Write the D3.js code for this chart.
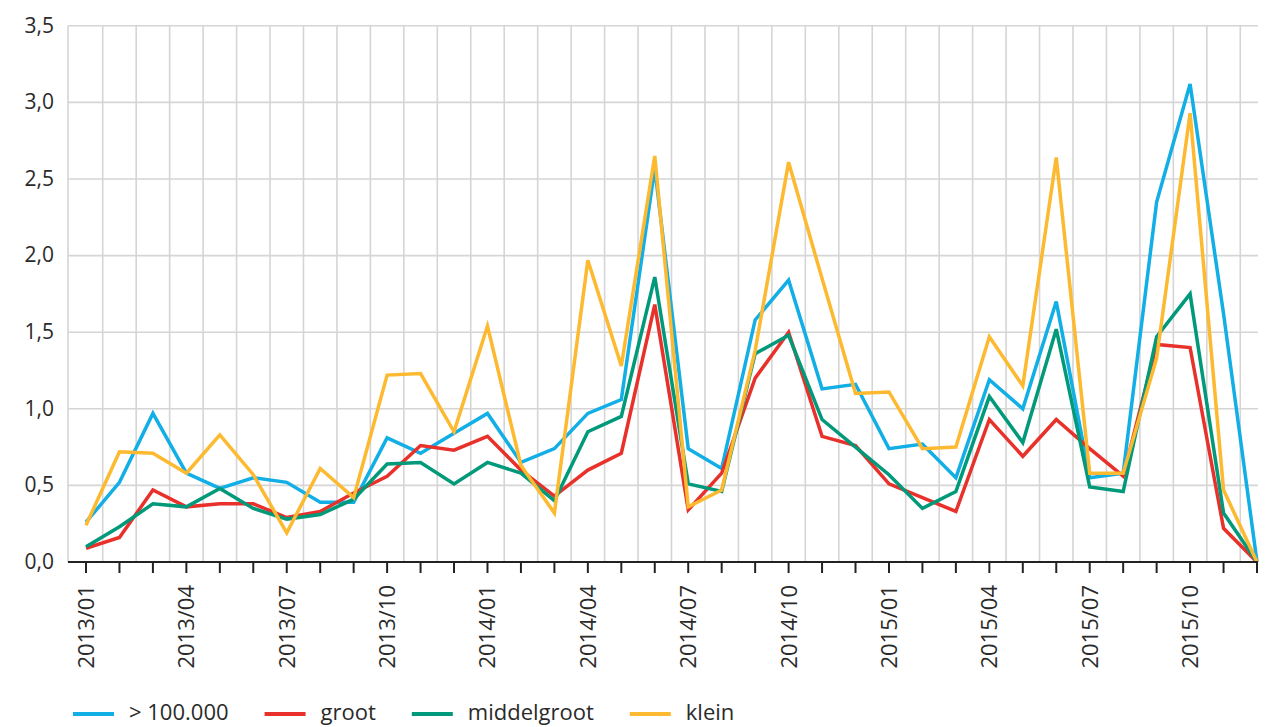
<!DOCTYPE html>
<html>
<head>
<meta charset="utf-8">
<script src="https://cdn.jsdelivr.net/npm/d3@7"></script>
<style>
  html, body { margin: 0; padding: 0; background: #fff; }
  svg { display: block; font-family: "Open Sans", sans-serif; }
</style>
</head>
<body>
<svg id="chart" width="1266" height="727"></svg>
<script>
const months = [
  "2013/01","2013/02","2013/03","2013/04","2013/05","2013/06","2013/07","2013/08","2013/09","2013/10","2013/11","2013/12",
  "2014/01","2014/02","2014/03","2014/04","2014/05","2014/06","2014/07","2014/08","2014/09","2014/10","2014/11","2014/12",
  "2015/01","2015/02","2015/03","2015/04","2015/05","2015/06","2015/07","2015/08","2015/09","2015/10","2015/11","2015/12"
];
const tickLabels = ["2013/01","2013/04","2013/07","2013/10","2014/01","2014/04","2014/07","2014/10","2015/01","2015/04","2015/07","2015/10"];
const yTicks = [0, 0.5, 1.0, 1.5, 2.0, 2.5, 3.0, 3.5];

const seriesNames = ["> 100.000", "groot", "middelgroot", "klein"];
const seriesColors = ["#12AEE6", "#E8312A", "#00997A", "#FDB92F"];

const over100k = [0.26,0.52,0.97,0.58,0.48,0.55,0.52,0.39,0.39,0.81,0.71,0.84,
                  0.97,0.65,0.74,0.97,1.06,2.57,0.74,0.61,1.58,1.84,1.13,1.16,
                  0.74,0.77,0.55,1.19,1.00,1.70,0.55,0.58,2.35,3.12,1.62,0.00];
const groot = [0.09,0.16,0.47,0.36,0.38,0.38,0.29,0.33,0.45,0.56,0.76,0.73,
               0.82,0.60,0.43,0.60,0.71,1.68,0.34,0.58,1.20,1.50,0.82,0.76,
               0.51,0.42,0.33,0.93,0.69,0.93,0.74,0.56,1.42,1.40,0.22,0.00];
const middelgroot = [0.10,0.23,0.38,0.36,0.48,0.35,0.28,0.31,0.41,0.64,0.65,0.51,
                     0.65,0.58,0.40,0.85,0.95,1.86,0.51,0.46,1.36,1.48,0.93,0.75,
                     0.57,0.35,0.46,1.08,0.78,1.52,0.49,0.46,1.47,1.75,0.32,0.00];
const klein = [0.24,0.72,0.71,0.58,0.83,0.57,0.19,0.61,0.42,1.22,1.23,0.85,
               1.54,0.63,0.32,1.97,1.28,2.65,0.36,0.47,1.38,2.61,1.85,1.10,
               1.11,0.74,0.75,1.47,1.15,2.64,0.58,0.58,1.33,2.93,0.47,0.00];
const seriesValues = [over100k, groot, middelgroot, klein];

const svg = d3.select("#chart");
const plotLeft = 68, plotRight = 1258, plotTop = 25, plotBottom = 562;

const x = d3.scalePoint().domain(months).range([86, 1257]);
const step = x.step();
const y = d3.scaleLinear().domain([0, 3.5]).range([plotBottom, plotTop + 0.8]);
const locale = d3.formatLocale({decimal: ",", thousands: ".", grouping: [3], currency: ["€", ""]});
const fmt = locale.format(".1f");

// grid
const grid = svg.append("g");
grid.selectAll("line.h").data(yTicks.filter(d => d > 0)).join("line")
  .attr("x1", plotLeft).attr("x2", plotRight)
  .attr("y1", d => y(d)).attr("y2", d => y(d))
  .attr("stroke", "#d5d5d5").attr("stroke-width", 1.6);
grid.append("line")
  .attr("x1", plotLeft).attr("x2", plotLeft).attr("y1", y(3.5)).attr("y2", plotBottom)
  .attr("stroke", "#d5d5d5").attr("stroke-width", 1.6);
grid.selectAll("line.v").data(months.slice(1)).join("line")
  .attr("x1", d => x(d) - step / 2).attr("x2", d => x(d) - step / 2)
  .attr("y1", y(3.5)).attr("y2", plotBottom)
  .attr("stroke", "#d5d5d5").attr("stroke-width", 1.6);

// y labels
svg.append("g").selectAll("text").data(yTicks).join("text")
  .attr("x", 54).attr("y", d => y(d)).attr("dy", "0.32em")
  .attr("text-anchor", "end").attr("font-size", 21).attr("fill", "#2a2a2a")
  .text(d => fmt(d));

// lines
const line = d3.line().x((d, i) => x(months[i])).y(d => y(d));
svg.append("g").selectAll("path").data(seriesValues).join("path")
  .attr("d", d => line(d))
  .attr("fill", "none")
  .attr("stroke", (d, i) => seriesColors[i])
  .attr("stroke-width", 3.5)
  .attr("stroke-linejoin", "miter");

// x axis
const ax = svg.append("g");
ax.append("line").attr("x1", plotLeft).attr("x2", plotRight)
  .attr("y1", plotBottom).attr("y2", plotBottom)
  .attr("stroke", "#222").attr("stroke-width", 2);
ax.selectAll("line.t").data(months).join("line")
  .attr("x1", d => x(d)).attr("x2", d => x(d))
  .attr("y1", plotBottom).attr("y2", plotBottom + 11)
  .attr("stroke", "#222").attr("stroke-width", 2);
ax.selectAll("text").data(tickLabels).join("text")
  .attr("transform", d => `translate(${x(d)},585) rotate(-90)`)
  .attr("text-anchor", "end").attr("dy", "0.36em")
  .attr("font-size", 22).attr("fill", "#2a2a2a")
  .text(d => d);

// legend
const lg = svg.append("g");
let lx = 73;
const ly = 712;
seriesNames.forEach((name, i) => {
  lg.append("line").attr("x1", lx).attr("x2", lx + 41)
    .attr("y1", ly + 2).attr("y2", ly + 2)
    .attr("stroke", seriesColors[i]).attr("stroke-width", 4);
  const t = lg.append("text").attr("x", lx + 56).attr("y", ly).attr("dy", "0.35em")
    .attr("font-size", 22).attr("fill", "#2a2a2a").text(name);
  lx = lx + 56 + t.node().getComputedTextLength() + 36;
});
</script>
</body>
</html>
